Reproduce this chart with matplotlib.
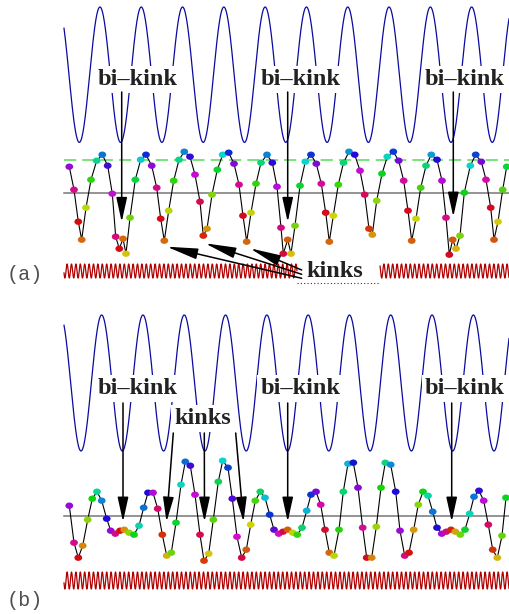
import matplotlib
matplotlib.use("Agg")
import matplotlib.pyplot as plt
import numpy as np
from matplotlib.path import Path
from matplotlib.transforms import Affine2D
from matplotlib.colors import hsv_to_rgb

# particle positions along the chain (x) and displacement from the gray line (u)
x_a = [69.3, 74, 78.3, 81.7, 86, 91, 96.7, 102.3, 107.7, 112.3, 115.7, 119.3, 123, 126, 130,
       135.3, 140.7, 146, 151.7, 156.7, 160.7, 164.3, 168.7, 173.7, 179, 184.3, 190, 195, 200,
       203.3, 207, 212, 217.3, 222.7, 228.7, 234, 239, 243, 246.7, 251, 256, 261, 267, 272.3,
       277, 281, 283.3, 287.7, 291, 295, 300, 305.3, 311, 316.3, 321.3, 325.7, 329.3, 333.3,
       338.3, 343.5, 349, 354.7, 360, 364.7, 369, 372.3, 376.7, 382, 387.3, 393.3, 398.7,
       403.7, 408, 411.7, 416, 420.7, 426, 431.3, 437, 442, 446, 449.3, 452.7, 456, 460,
       464.3, 470.3, 475.7, 481.3, 486, 490.7, 494, 498, 502.7, 506.7]
u_a = [26, 3, -29, -47, -15, 13, 32, 38, 27, -1, -44, -56, -46, -61, -25,
       13, 33, 38, 27, 5, -26, -48, -18, 12, 33, 41, 36, 18, -9,
       -43, -36, -2, 23, 38, 40, 29, 8, -23, -49, -20, 9, 30, 38, 30,
       6, -35, -61, -47, -61, -33, 7, 31, 38, 29, 9, -20, -49, -23,
       8, 30, 41, 38, 22, -2, -36, -42, -8, 19, 36, 41, 32,
       12, -18, -48, -26, 5, 27, 38, 33, 12, -25, -62, -47, -56, -43,
       0, 27, 38, 31, 13, -15, -47, -29, 3, 26]

x_b = [69.3, 74, 78.3, 82.7, 87.7, 92.3, 97, 101.7, 106.7, 110.7, 115.3, 120, 124.3, 129, 134,
       139, 143.7, 148, 153, 157.7, 162.3, 166.7, 171.3, 176, 181, 185.3, 190.3, 195, 200,
       204, 208.7, 213.3, 218.3, 222.7, 228, 232.3, 237, 241.7, 246.3, 250.7, 255.3, 260.3,
       265, 269.7, 274, 278.7, 283, 287.7, 292.7, 297.3, 302, 306.7, 311, 316, 320.7, 325,
       329.3, 334, 339, 343.3, 348, 353.3, 358, 362.7, 366.7, 371.7, 376.3, 381, 385.3,
       390.7, 395.7, 400, 404.7, 409, 413.7, 418.3, 423, 428, 432.7, 437, 441.7, 446.3,
       451, 455.3, 460.3, 465, 469.7, 474, 479, 483.7, 488.3, 492.7, 497.3, 502, 506]
u_b = [10, -27, -42, -30, -4, 17, 24, 15, -3, -15, -18, -15, -14, -17, -19,
       -10, 8, 23, 23, 7, -19, -40, -37, -7, 31, 54, 50, 21, -19,
       -45, -38, -4, 34, 55, 48, 17, -21, -42, -34, -9, 15, 24,
       18, 1, -14, -18, -16, -14, -17, -19, -12, 5, 21, 24, 11, -14,
       -37, -40, -14, 24, 52, 53, 28, -12, -42, -42, -11, 28, 53,
       51, 24, -15, -40, -37, -14, 11, 24, 20, 4, -12, -18, -16,
       -14, -16, -19, -14, 2, 19, 25, 15, -9, -34, -42, -20, 18]

# substrate potential (blue) and the fast red potential, per panel
period = 41.3
pot_a = dict(xmin=79.3, mid=118.0, amp=67.7)
pot_b = dict(xmin=81.0, mid=132.7, amp=68.0)
fast_period = 4.4
fast_a = dict(mid=-78.3, amp=7.0)
fast_b = dict(mid=-64.8, amp=8.5)
green_level_a = 32.7

# labels
bikink_x = [138, 300.3, 464.5]
bikink_tail_a, bikink_tip_a = 100.7, [-29.3, -29.3, -24]
bikink_tail_b, bikink_tip_b = 112.7, [-6, -6, -6]
bikink_arrow_x_a = [121.7, 287.7, 453.3]
bikink_arrow_x_b = [123, 287.7, 451.7]
kink_tails_b = [(173.3, 82.7), (204.3, 82.7), (235.7, 82.7)]
kink_tips_b = [(166.5, -6), (204.5, -6), (243.5, -6)]
kink_tails_a = [(301.7, -85.6), (301.7, -81.6), (301.7, -77.3)]
kink_tips_a = [(166.7, -54), (205, -50.6), (250, -55.6)]

W, H = 509, 614
fig = plt.figure(figsize=(W / 100, H / 100), dpi=100)
ax_a = fig.add_axes([0, 314 / H, 1, 300 / H])
ax_b = fig.add_axes([0, 0, 1, 314 / H])
ax_a.set_xlim(0, W)
ax_a.set_ylim(-107.3, 192.7)
ax_b.set_xlim(0, W)
ax_b.set_ylim(-98.3, 215.7)

ellipse = Path.unit_circle().transformed(Affine2D().scale(1, 0.82))
xx = np.linspace(64, W, 3000)


def colour(x):
    h = (0.78 + (np.asarray(x) - 69.3) / period) % 1.0
    hsv = np.stack([h, np.full_like(h, 0.95), np.full_like(h, 0.83)], axis=1)
    return hsv_to_rgb(hsv)


def arrow(ax, tail, tip, hl=1.5):
    ax.annotate("", xy=tip, xytext=tail,
                arrowprops=dict(arrowstyle=f"-|>,head_length={hl},head_width=0.33",
                                mutation_scale=10, color="black", lw=1.1,
                                shrinkA=0, shrinkB=0), zorder=6)


def label(ax, x, y, s):
    ax.text(x, y, s, ha="center", va="baseline", fontsize=17.5,
            family="Liberation Serif", weight="bold", color="#222222", zorder=5,
            bbox=dict(boxstyle="square,pad=0.12", fc="white", ec="none"))


for ax, xs, us, pot, fast in [(ax_a, x_a, u_a, pot_a, fast_a), (ax_b, x_b, u_b, pot_b, fast_b)]:
    ax.axis("off")
    ax.plot(xx, pot["mid"] - pot["amp"] * np.cos(2 * np.pi * (xx - pot["xmin"]) / period),
            color="#0a0aa0", lw=0.9, zorder=2)
    ax.axhline(0, xmin=64 / W, color="#777777", lw=1.1, zorder=1)
    ax.plot(xs, us, color="black", lw=0.8, zorder=3)
    ax.scatter(xs, us, s=5.6 ** 2, marker=ellipse, c=colour(xs), linewidths=0, zorder=4)

# red fast potential
zz_a = fast_a["mid"] + fast_a["amp"] * np.sin(2 * np.pi * xx / fast_period)
zz_a = np.ma.masked_where((xx > 297) & (xx < 380), zz_a)
ax_a.plot(xx, zz_a, color="#b00000", lw=0.9, zorder=2)
ax_a.plot([297, 380], [-90.6, -90.6], color="#b00000", lw=0.8, ls=(0, (1, 2)), zorder=7)
ax_b.plot(xx, fast_b["mid"] + fast_b["amp"] * np.sin(2 * np.pi * xx / fast_period),
          color="#b00000", lw=0.9, zorder=2)

ax_a.axhline(green_level_a, xmin=64 / W, color="#55dd55", lw=1.1, ls=(0, (8, 4)), zorder=1)

# annotations, panel (a)
for bx, ax_x, tip in zip(bikink_x, bikink_arrow_x_a, bikink_tip_a):
    label(ax_a, bx, 107.7, "bi\u2013kink")
    arrow(ax_a, (ax_x, bikink_tail_a), (ax_x, tip))
for tail, tip in zip(kink_tails_a, kink_tips_a):
    arrow(ax_a, tail, tip, hl=1.9)
label(ax_a, 335, -84.3, "kinks")

# annotations, panel (b)
for bx, ax_x, tip in zip(bikink_x, bikink_arrow_x_b, bikink_tip_b):
    label(ax_b, bx, 121.4, "bi\u2013kink")
    arrow(ax_b, (ax_x, bikink_tail_b), (ax_x, tip))
label(ax_b, 202.7, 91.4, "kinks")
for tail, tip in zip(kink_tails_b, kink_tips_b):
    arrow(ax_b, tail, tip)

ax_a.text(25, -82.3, "(a)", ha="center", va="center", fontsize=14.5,
          family="Liberation Mono", color="#505050")
ax_b.text(25, -84.3, "(b)", ha="center", va="center", fontsize=14.5,
          family="Liberation Mono", color="#505050")

fig.savefig("out.png", dpi=100)
